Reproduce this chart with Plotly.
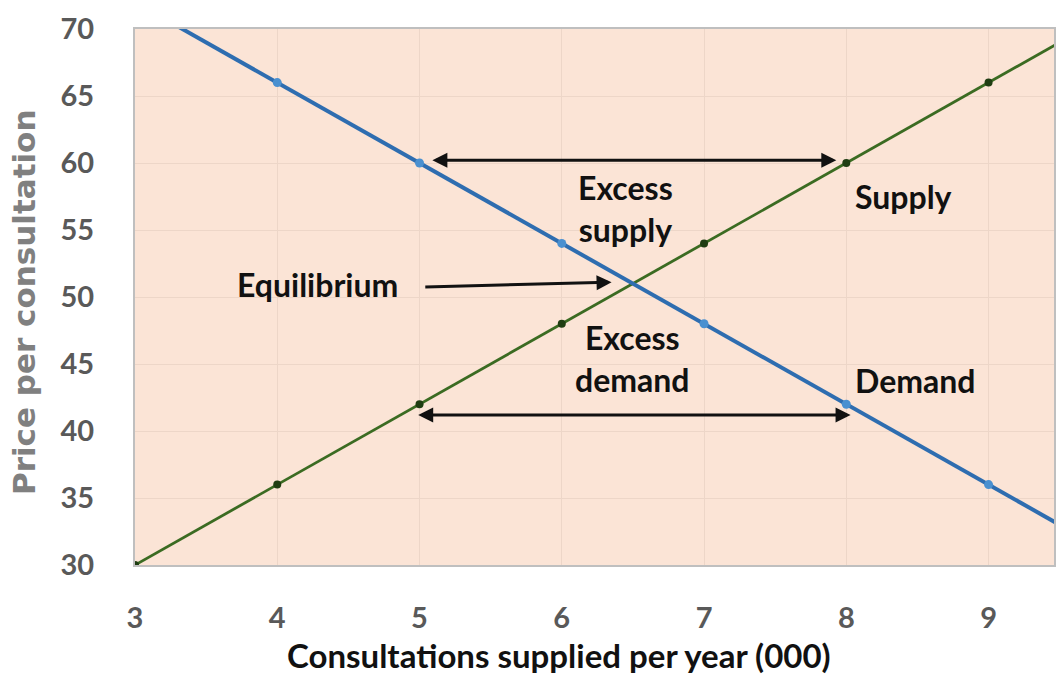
import plotly.graph_objects as go

quantity = [3, 4, 5, 6, 7, 8, 9, 10]
demand_price = [72, 66, 60, 54, 48, 42, 36, 30]
supply_price = [30, 36, 42, 48, 54, 60, 66, 72]
x_ticks = [3, 4, 5, 6, 7, 8, 9]
y_ticks = [30, 35, 40, 45, 50, 55, 60, 65, 70]

FONT = "Lato"
fig = go.Figure()
fig.add_trace(go.Scatter(
    x=quantity, y=supply_price, mode="lines+markers", name="Supply",
    line=dict(color="#3B6B22", width=2.8),
    marker=dict(color="#1F3D12", size=8)))
fig.add_trace(go.Scatter(
    x=quantity, y=demand_price, mode="lines+markers", name="Demand",
    line=dict(color="#2E6DB0", width=4),
    marker=dict(color="#4A90D0", size=9)))

ann_font = dict(family=FONT, size=32, color="#111111")
annotations = []
for txt, x, y in [("Excess<br>supply", 6.45, 56.6), ("Excess<br>demand", 6.5, 45.4),
                  ("Supply", 8.4, 57.5), ("Demand", 8.48, 43.8),
                  ("Equilibrium", 4.28, 50.9)]:
    annotations.append(dict(x=x, y=y, xref="x", yref="y", text="<b>" + txt + "</b>",
                            showarrow=False, font=ann_font, align="center"))
for (x0, y0, x1, y1, side) in [(5.08, 60.2, 7.93, 60.2, "end+start"),
                               (4.98, 41.2, 8.03, 41.2, "end+start"),
                               (5.03, 50.75, 6.35, 51.1, "end")]:
    annotations.append(dict(x=x1, y=y1, ax=x0, ay=y0, xref="x", yref="y",
                            axref="x", ayref="y", text="", showarrow=True,
                            arrowhead=2, startarrowhead=2, arrowside=side,
                            arrowsize=1, startarrowsize=1, arrowwidth=3, arrowcolor="#111111"))
annotations.append(dict(x=0.461, y=-0.168, xref="paper", yref="paper", showarrow=False,
                        xanchor="center", yanchor="middle",
                        text="<b>Consultations supplied per year (000)</b>",
                        font=dict(family=FONT, size=33, color="#111111")))
annotations.append(dict(x=-0.1205, y=0.491, xref="paper", yref="paper", showarrow=False,
                        xanchor="center", yanchor="middle",
                        textangle=-90, text="<b>Price per consultation</b>",
                        font=dict(family="DejaVu Sans", size=31, color="#808080")))

fig.update_layout(
    width=1056, height=675,
    margin=dict(l=135, r=0, t=29, b=110),
    paper_bgcolor="white", plot_bgcolor="#FBE4D6",
    showlegend=False,
    annotations=annotations,
    font=dict(family=FONT),
)
fig.update_xaxes(range=[3, 9.46], tickvals=x_ticks, ticktext=[f"<b>{v}</b>" for v in x_ticks],
                 tickfont=dict(family=FONT, size=29, color="#595959"),
                 showgrid=True, gridcolor="#EDD6C8", gridwidth=1,
                 showline=True, linecolor="#BFBFBF", linewidth=2, mirror=True,
                 ticks="", ticklabelstandoff=26, zeroline=False)
fig.update_yaxes(range=[30, 70], tickvals=y_ticks, ticktext=[f"<b>{v}</b>" for v in y_ticks],
                 tickfont=dict(family=FONT, size=29, color="#595959"),
                 showgrid=True, gridcolor="#EDD6C8", gridwidth=1,
                 showline=True, linecolor="#BFBFBF", linewidth=2, mirror=True,
                 ticks="", ticklabelstandoff=33, zeroline=False)
fig.write_html("out.html", config={"displayModeBar": False},
               post_script="document.body.style.margin='0px';")
